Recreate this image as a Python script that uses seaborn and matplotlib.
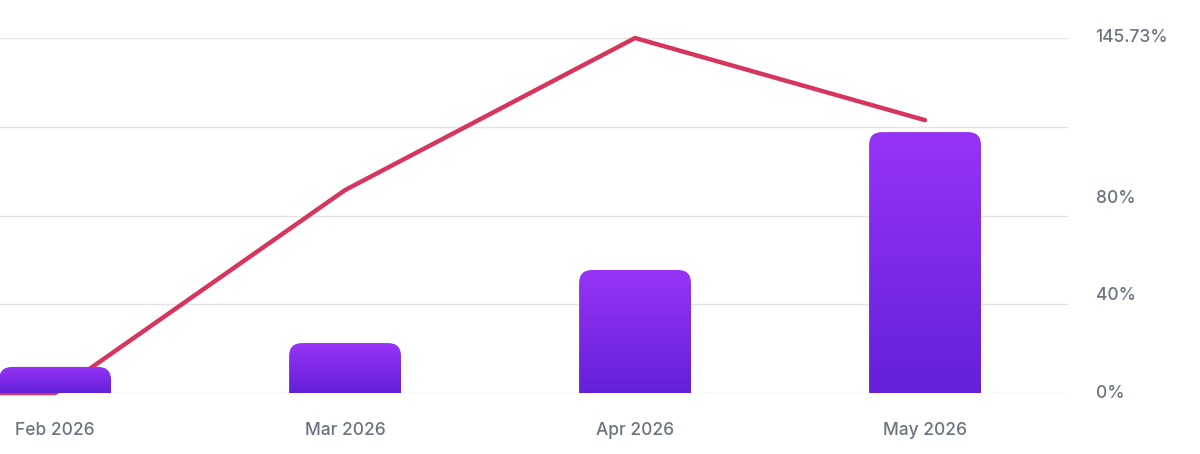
import matplotlib
matplotlib.use("Agg")
import matplotlib.pyplot as plt
import seaborn as sns
import numpy as np
from matplotlib.patches import FancyBboxPatch
from matplotlib.colors import LinearSegmentedColormap

sns.set_theme(style="white")
plt.rcParams['font.family'] = ['Inter', 'DejaVu Sans']

months = ["Feb 2026", "Mar 2026", "Apr 2026", "May 2026"]
bar_values = [10.7, 20.5, 50.5, 107.1]
line_months = ["Jan 2026", "Feb 2026", "Mar 2026", "Apr 2026", "May 2026"]
line_values = [0.0, 0.0, 83.3, 145.73, 112.0]
ymax = 145.73
tick_vals = [0, 40, 80, 145.73]
tick_labels = ["0%", "40%", "80%", "145.73%"]

fig = plt.figure(figsize=(12, 4.54), dpi=100)
ax = fig.add_axes([0, 61/454, 1068/1200, 355/454])
x0 = -0.19
ax.set_xlim(x0, 3.493)
ax.set_ylim(0, ymax)

for g in np.linspace(0, ymax, 5):
    ax.axhline(g, color="#e3e3e8", lw=1, zorder=0)

lx = np.arange(len(line_values)) - 1
sns.lineplot(x=lx, y=line_values, ax=ax, color="#d6365e", lw=3.2, zorder=2)
for l in ax.lines[-1:]:
    l.set_clip_on(False)

cmap = LinearSegmentedColormap.from_list("g", ["#6420d8", "#9634f5"])
grad = np.linspace(0, 1, 256).reshape(-1, 1)
w = 0.386
for i, v in enumerate(bar_values):
    patch = FancyBboxPatch((i - w/2, -10), w, v + 10,
                           boxstyle="round,pad=0,rounding_size=0.045",
                           mutation_aspect=ymax/355*290 , fc="none", ec="none", zorder=3)
    ax.add_patch(patch)
    im = ax.imshow(grad, cmap=cmap, extent=(i - w/2, i + w/2, 0, v),
                   origin="lower", aspect="auto", zorder=3)
    im.set_clip_path(patch)
ax.set_xlim(x0, 3.493)
ax.set_ylim(0, ymax)

ax.set_xticks([]); ax.set_yticks([])
for s in ax.spines.values():
    s.set_visible(False)
for i, m in enumerate(months):
    ax.text(i, -ymax*0.105, m, ha="center", va="center", fontsize=12.5,
            color="#6b7280", fontweight="medium")
for v, t in zip(tick_vals, tick_labels):
    ax.text(3.588, v, t, ha="left", va="center", fontsize=12.5,
            color="#6b7280", fontweight="medium", transform=ax.transData, clip_on=False)

fig.savefig("out.png", dpi=100)
